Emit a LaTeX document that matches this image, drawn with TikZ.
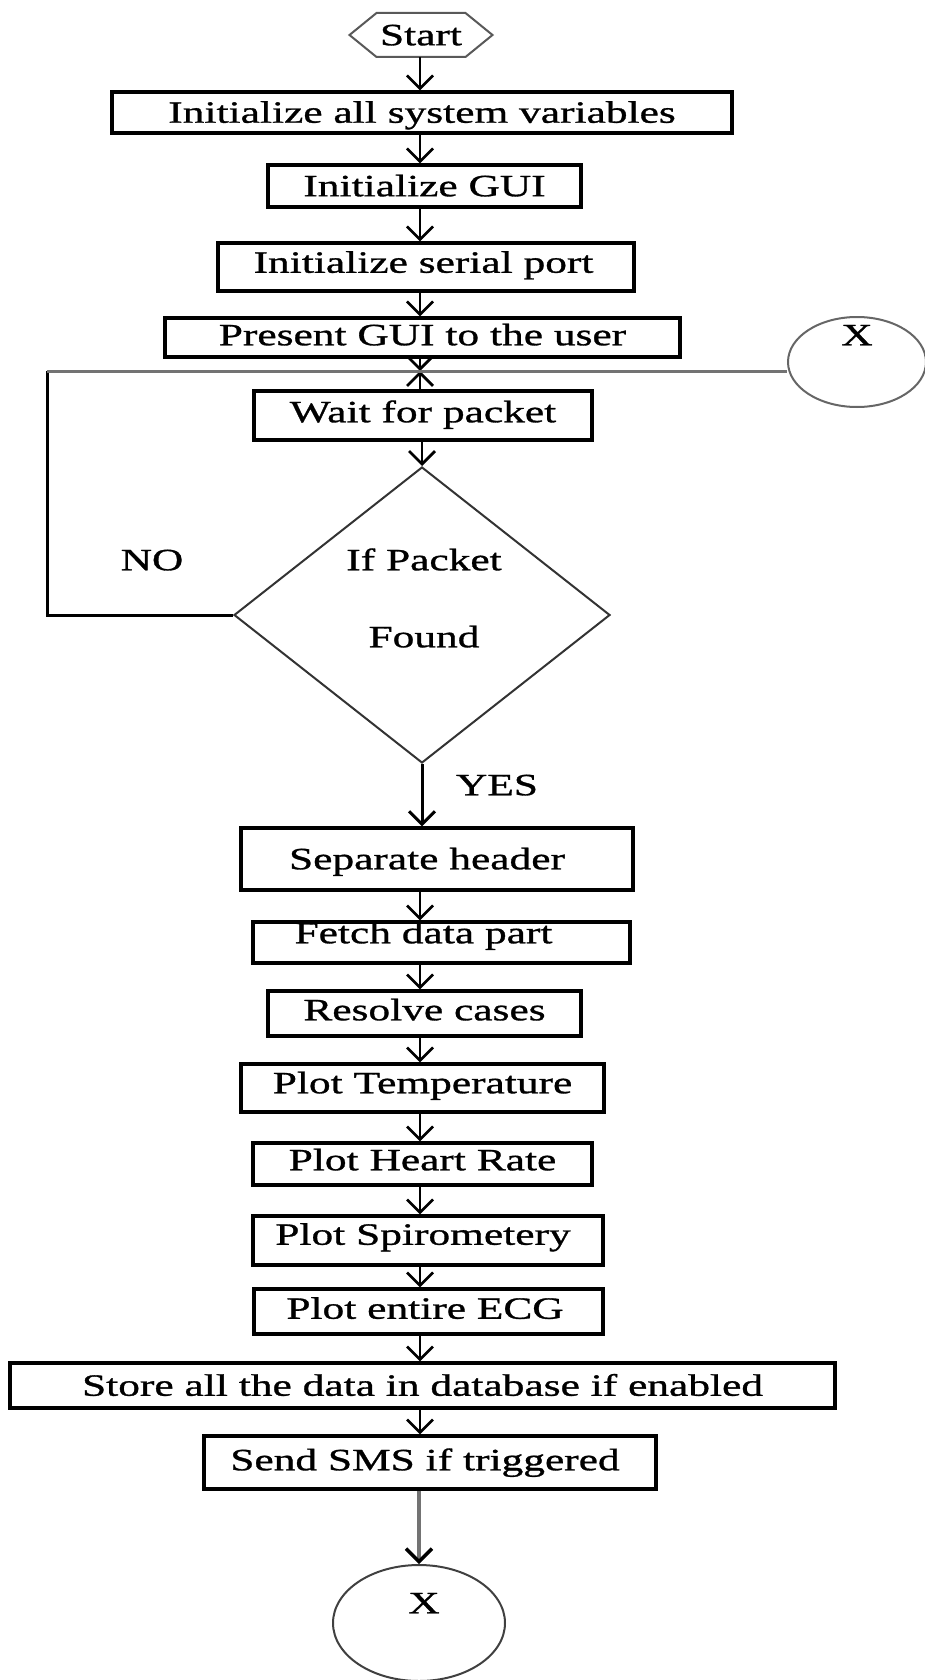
\documentclass[tikz,border=0pt]{standalone}
\usepackage{fontspec}
\setmainfont{Liberation Serif}[FakeStretch=1.4,FakeBold=1]
\usetikzlibrary{arrows.meta,shapes.geometric}
\tikzset{
  every node/.style={font=\fontsize{31}{37}\selectfont, inner sep=0pt, text height=20.5pt, text depth=0pt},
  box/.style={draw, line width=3.2pt},
  arr/.style={line width=2.7pt, -{Straight Barb[length=13pt,width=26pt]}},
  grayarr/.style={line width=3.5pt, draw=black!55, -{Straight Barb[length=13pt,width=26pt,color=black]}},
  thinshape/.style={line width=2pt, draw=black!65},
  loopblk/.style={line width=3pt},
  loopgray/.style={line width=3pt, draw=black!55}
}
\begin{document}
\begin{tikzpicture}[x=1pt,y=-1pt]
\useasboundingbox (0,0) rectangle (925,1680);
\coordinate (ax) at (420,0);
% start
\node[minimum height=44pt] (start) at (421,35) {Start};
\draw[thinshape] ([xshift=-71.5pt]start.center) -- ++(27,-22) -- ++(89,0) -- ++(27,22) -- ++(-27,22) -- ++(-89,0) -- cycle;
% boxes
\node[box, minimum width=620pt, minimum height=41pt] (b1) at (422,112.5) {Initialize all system variables};
\node[box, minimum width=313pt, minimum height=42pt] (b2) at (424.5,186) {Initialize GUI};
\node[box, minimum width=416pt, minimum height=48pt, text depth=9pt] (b3) at (426,267) {\hspace*{-5pt}Initialize serial port};
\node[box, minimum width=515pt, minimum height=39pt, text depth=5pt] (b4) at (422.5,337.5) {Present GUI to the user};
\node[box, minimum width=338pt, minimum height=49pt, text depth=7pt] (wait) at (423,415.5) {Wait for packet};
\node[diamond, thinshape, draw=black!80, minimum width=376pt, minimum height=296pt, text height=0pt] (dia) at (422,615) {};
\node (dq1) at (424,560) {If Packet};
\node (dq2) at (424,637) {Found};
\node (no) at (152,560) {NO};
\node (yes) at (497,785) {YES};
\node[box, minimum width=392pt, minimum height=62pt] (sep) at (437,859) {\hspace*{-20pt}Separate header};
\node[box, minimum width=377pt, minimum height=41pt, text depth=19pt] (fetch) at (441.5,942.5) {\hspace*{-36pt}Fetch data part};
\node[box, minimum width=313pt, minimum height=45pt, text depth=7pt] (res) at (424.5,1013.5) {Resolve cases};
\node[box, minimum width=363pt, minimum height=48pt, text depth=10pt] (temp) at (422.5,1088) {Plot Temperature};
\node[box, minimum width=339pt, minimum height=42pt, text depth=8pt] (heart) at (422.5,1164) {Plot Heart Rate};
\node[box, minimum width=350pt, minimum height=49pt, text depth=12pt] (spiro) at (428,1240.5) {\hspace*{-10pt}Plot Spirometery};
\node[box, minimum width=349pt, minimum height=45pt, text depth=6pt] (ecg) at (428.5,1311.5) {\hspace*{-7pt}Plot entire ECG};
\node[box, minimum width=825pt, minimum height=45pt] (store) at (422.5,1385.5) {Store all the data in database if enabled};
\node[box, minimum width=452pt, minimum height=53pt, text depth=5pt] (sms) at (430,1462.5) {\hspace*{-10pt}Send SMS if triggered};
% connector circles
\node[ellipse, thinshape, draw=black!75, minimum width=172pt, minimum height=116pt, text height=0pt] (xbot) at (419,1623) {};
\node (xb) at (424,1603) {X};
\node[ellipse, thinshape, draw=black!60, minimum width=138pt, minimum height=90pt, text height=0pt] (xtop) at (857,362) {};
\node (xt) at (857,335) {X};
% flow
\coordinate (jn) at (420,371);
\coordinate (lc) at (47,371);
\draw[arr] (start.south -| ax) -- (b1.north -| ax);
\draw[arr] (b1.south -| ax) -- (b2.north -| ax);
\draw[arr] (b2.south -| ax) -- (b3.north -| ax);
\draw[arr] (b3.south -| ax) -- (b4.north -| ax);
\draw[arr] (b4.south -| ax) -- (jn);
\draw[arr] (wait.north -| ax) -- (jn);
\draw[arr] (wait.south -| dia.north) -- (dia.north);
\draw[arr, line width=3pt] (dia.south) -- (sep.north -| dia.south);
\draw[arr] (sep.south -| ax) -- (fetch.north -| ax);
\draw[arr] (fetch.south -| ax) -- (res.north -| ax);
\draw[arr] (res.south -| ax) -- (temp.north -| ax);
\draw[arr] (temp.south -| ax) -- (heart.north -| ax);
\draw[arr] (heart.south -| ax) -- (spiro.north -| ax);
\draw[arr] (spiro.south -| ax) -- (ecg.north -| ax);
\draw[arr] (ecg.south -| ax) -- (store.north -| ax);
\draw[arr] (store.south -| ax) -- (sms.north -| ax);
\draw[grayarr] (sms.south -| xbot.north) -- (xbot.north);
% loop
\draw[loopblk] (dia.west) -| (lc);
\draw[loopgray] (lc) -- (xtop.west |- lc);
\end{tikzpicture}
\end{document}
